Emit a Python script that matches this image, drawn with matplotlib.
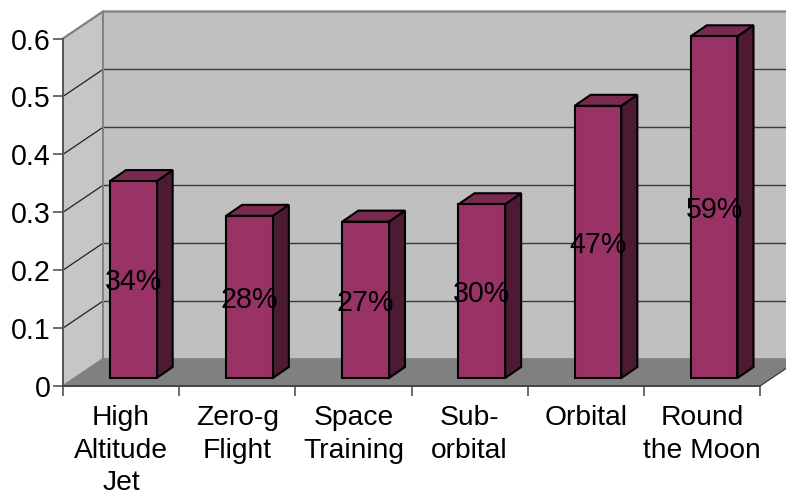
import matplotlib
matplotlib.use("Agg")
import matplotlib.pyplot as plt
from matplotlib.patches import Polygon

plt.rcParams['font.family'] = ['Liberation Sans', 'DejaVu Sans']

categories = ['High\nAltitude\nJet', 'Zero-g\nFlight', 'Space\nTraining', 'Sub-\norbital', 'Orbital', 'Round\nthe Moon']
values = [0.34, 0.28, 0.27, 0.30, 0.47, 0.59]
value_labels = ['34%', '28%', '27%', '30%', '47%', '59%']
y_ticks = [0, 0.1, 0.2, 0.3, 0.4, 0.5, 0.6]
y_tick_labels = ['0', '0.1', '0.2', '0.3', '0.4', '0.5', '0.6']

# depth of the fake 3d box, in data units
wall_dx = 0.344
wall_dy = 0.0466
bar_dx = 0.138
bar_dy = 0.019
bar_left = 0.404
bar_width = 0.402
bar_base = 0.0138
top_val = 0.6
n = len(categories)

W, H = 786, 500
fig = plt.figure(figsize=(W / 100, H / 100), dpi=100)
ax = fig.add_axes([63 / W, 1 - 386 / H, (760 - 63) / W, (386 - 38.5) / H])
ax.set_xlim(0, n)
ax.set_ylim(0, top_val)
ax.patch.set_visible(False)


def poly(pts, fc, ec='none', lw=0, z=1):
    ax.add_patch(Polygon(pts, closed=True, facecolor=fc, edgecolor=ec, linewidth=lw,
                         zorder=z, clip_on=False, joinstyle='miter'))


# walls and floor
poly([(wall_dx, wall_dy), (n + wall_dx, wall_dy), (n + wall_dx, top_val + wall_dy), (wall_dx, top_val + wall_dy)], '#c0c0c0')
poly([(0, 0), (wall_dx, wall_dy), (wall_dx, top_val + wall_dy), (0, top_val)], '#c6c6c6')
poly([(0, 0), (n, 0), (n + wall_dx, wall_dy), (wall_dx, wall_dy)], '#808080')

# grid
for v in y_ticks[1:-1]:
    ax.plot([wall_dx, n + wall_dx], [v + wall_dy, v + wall_dy], color='#3a3a3a', lw=1, zorder=2, clip_on=False)
    ax.plot([0, wall_dx], [v, v + wall_dy], color='#222222', lw=0.9, zorder=2, clip_on=False)

# box outline
ax.plot([0, wall_dx, n + wall_dx], [top_val, top_val + wall_dy, top_val + wall_dy], color='#808080', lw=1.6, zorder=2, clip_on=False)
ax.plot([wall_dx, wall_dx, 0], [top_val + wall_dy, wall_dy, 0], color='#808080', lw=1.4, zorder=2, clip_on=False)
ax.plot([wall_dx, n + wall_dx], [wall_dy, wall_dy], color='#808080', lw=1.2, zorder=2, clip_on=False)
ax.plot([n, n + wall_dx], [0, wall_dy], color='#444444', lw=1, zorder=2, clip_on=False)

# bars
for i, v in enumerate(values):
    x0 = i + bar_left
    x1 = x0 + bar_width
    y0 = bar_base
    y1 = bar_base + v
    poly([(x1, y0), (x1 + bar_dx, y0 + bar_dy), (x1 + bar_dx, y1 + bar_dy), (x1, y1)], '#4d1a33', 'black', 1.5, 3)
    poly([(x0, y1), (x1, y1), (x1 + bar_dx, y1 + bar_dy), (x0 + bar_dx, y1 + bar_dy)], '#7a2950', 'black', 1.5, 3)
    poly([(x0, y0), (x1, y0), (x1, y1), (x0, y1)], '#993366', 'black', 1.5, 4)
    ax.annotate(value_labels[i], (x0 + bar_width / 2, (y0 + y1) / 2), xytext=(0, -2), textcoords='offset points',
                ha='center', va='center', fontsize=20.6, color='black', zorder=5)

# axes
for s in ['top', 'right']:
    ax.spines[s].set_visible(False)
ax.spines['left'].set_color('#555555')
ax.spines['left'].set_linewidth(1.4)
ax.spines['bottom'].set_color('#444444')
ax.spines['bottom'].set_linewidth(1.4)
ax.spines['left'].set_zorder(6)
ax.spines['bottom'].set_zorder(6)

ax.set_yticks(y_ticks)
ax.set_yticklabels(y_tick_labels, fontsize=20.6)
ax.tick_params(axis='y', length=7, width=1.1, color='#444444', pad=2)
ax.set_xticks(range(n + 1))
ax.set_xticklabels([])
ax.tick_params(axis='x', which='major', length=7, width=1.1, color='#444444')
ax.set_xticks([i + 0.5 for i in range(n)], minor=True)
ax.set_xticklabels(categories, minor=True, fontsize=20.3, linespacing=1.32)
ax.tick_params(axis='x', which='minor', length=0, pad=14)

fig.savefig('out.png', dpi=100)
